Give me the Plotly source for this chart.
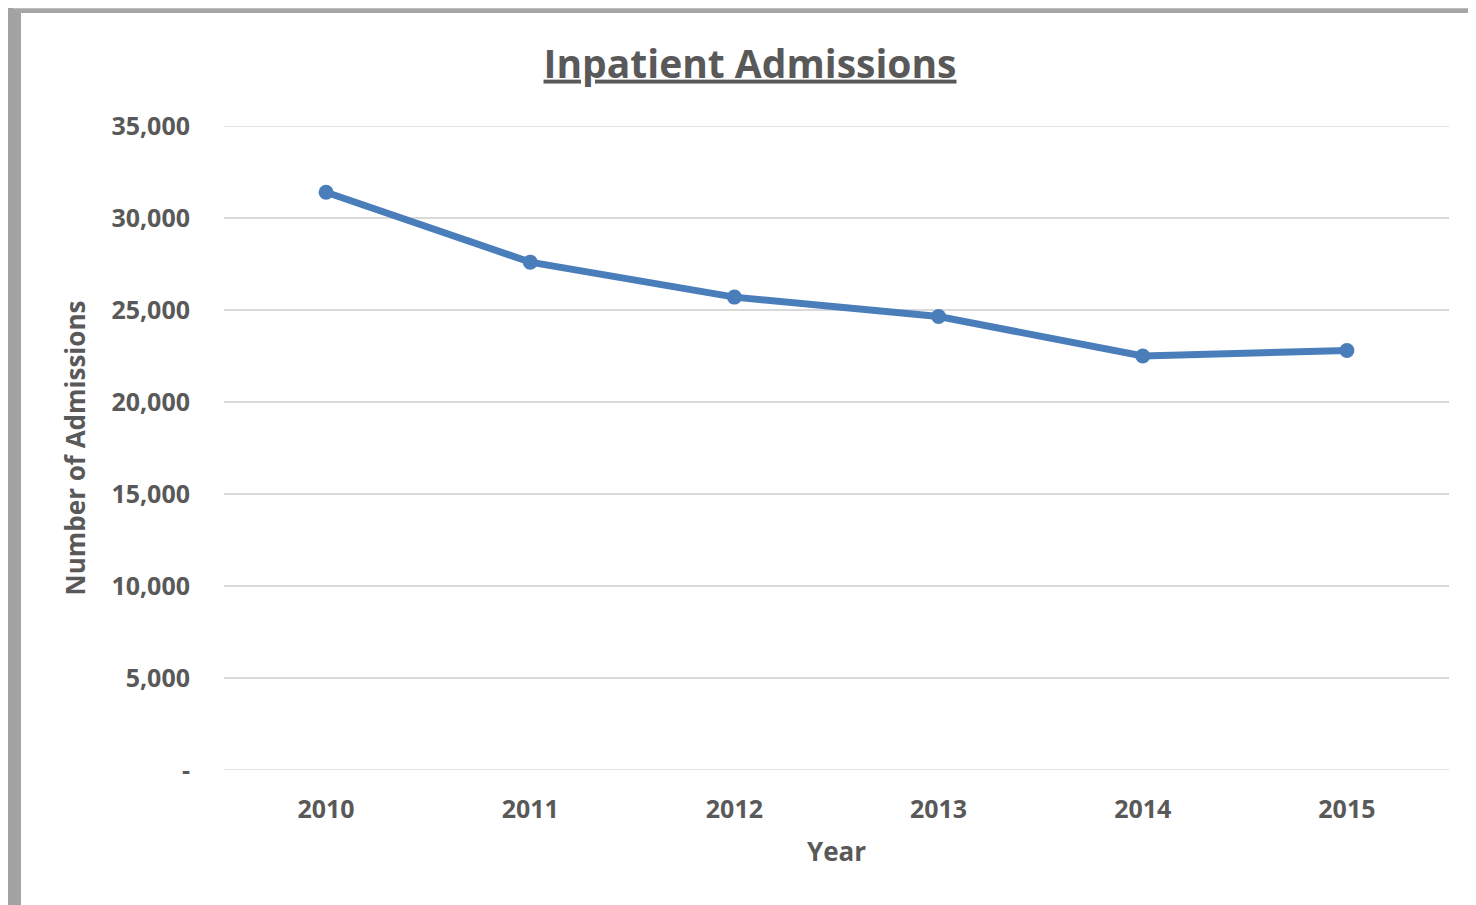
import plotly.graph_objects as go

years = ["2010", "2011", "2012", "2013", "2014", "2015"]
admissions = [31400, 27600, 25700, 24650, 22500, 22800]
ytick_vals = [0, 5000, 10000, 15000, 20000, 25000, 30000, 35000]
ytick_text = ["-", "5,000", "10,000", "15,000", "20,000", "25,000", "30,000", "35,000"]

# the page body adds an 8px offset, so work in figure coordinates = page - 8
OFF = 8
W, H = 1476 - OFF, 905 - OFF
L, R, T, B = 224 - OFF, 27, 126 - OFF, 135
pw, ph = W - L - R, H - T - B

def px(x):
    return (x - OFF - L) / pw

def py(y):
    return 1 - (y - OFF - T) / ph

fig = go.Figure()
fig.add_trace(go.Scatter(
    x=years, y=admissions, mode="lines+markers",
    line=dict(color="#4A7EBB", width=7),
    marker=dict(color="#4A7EBB", size=15),
    hoverinfo="skip", showlegend=False,
))

shapes = []
# edge gridlines (top and bottom) that plotly hides at the plot border
for v in (ytick_vals[0], ytick_vals[-1]):
    shapes.append(dict(type="line", xref="paper", yref="y", x0=0, x1=1, y0=v, y1=v,
                       line=dict(color="#d9d9d9", width=1.5), layer="below"))
lefts = [(0, 3, "#f0f0f0"), (3, 5, "#dedede"), (5, 7, "#c4c4c4"), (7, 21, "#a3a3a3")]
for x0, x1, c in lefts:
    shapes.append(dict(type="rect", xref="paper", yref="paper", x0=px(x0), x1=px(x1),
                       y0=py(H + 40), y1=py(max(x0, OFF)), fillcolor=c, line_width=0, layer="above"))
tops = [(0, 3, "#e8e8e8"), (3, 6, "#d4d4d4"), (6, 9, "#bdbdbd"), (9, 13, "#a6a6a6")]
for y0, y1, c in tops:
    shapes.append(dict(type="rect", xref="paper", yref="paper", x0=px(y0 + 7), x1=px(W + 40),
                       y0=py(y1), y1=py(max(y0, OFF)), fillcolor=c, line_width=0, layer="above"))

fig.update_layout(
    width=W, height=H,
    margin=dict(l=L, r=R, t=T, b=B),
    paper_bgcolor="white", plot_bgcolor="white",
    shapes=shapes,
    font=dict(family="Open Sans", color="#595959"),
    title=dict(text="<b><u>Inpatient Admissions</u></b>", x=(750 - OFF) / W, xref="container",
               xanchor="center", y=1 - (64 - OFF) / H, yanchor="middle",
               font=dict(size=39, color="#595959")),
    xaxis=dict(type="category", range=[-0.5, 5.5], showgrid=False, zeroline=False,
               showline=False, ticks="", ticklabelstandoff=22,
               tickfont=dict(size=25, color="#595959", weight="bold"),
               title=dict(text="<b>Year</b>", font=dict(size=26, color="#595959"), standoff=18),
               fixedrange=True),
    yaxis=dict(range=[0, 35000], tickvals=ytick_vals, ticktext=ytick_text,
               showgrid=True, gridcolor="#d9d9d9", gridwidth=1.5, zeroline=False,
               showline=False, ticks="", ticklabelstandoff=33,
               tickfont=dict(size=25, color="#595959", weight="bold"),
               title=dict(text="<b>Number of Admissions</b>", font=dict(size=26, color="#595959"),
                          standoff=18),
               fixedrange=True),
)

fig.write_html("out.html")
